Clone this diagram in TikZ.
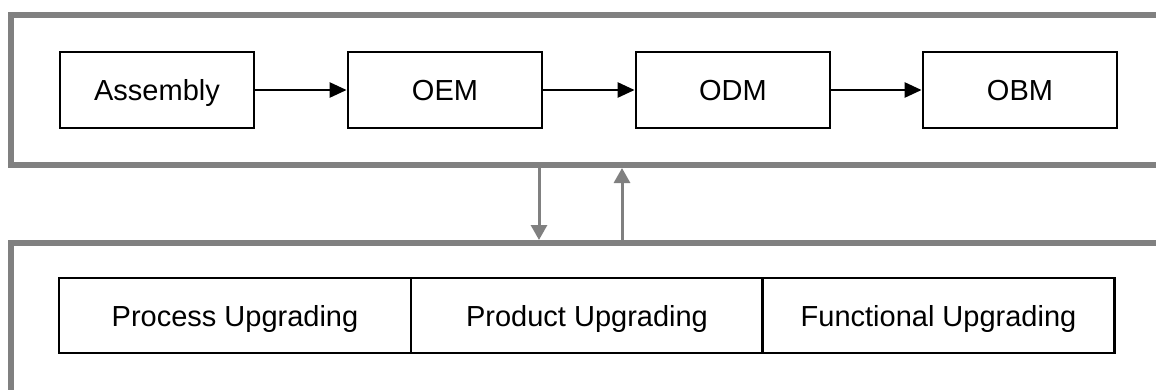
\documentclass[tikz,border=0pt]{standalone}
\usepackage{fontspec}
\setmainfont{Liberation Sans}
\usetikzlibrary{arrows.meta}
\definecolor{framegray}{HTML}{808080}
\begin{document}
\begin{tikzpicture}[x=1pt,y=-1pt,
  stagebox/.style={draw=black,line width=2.8pt,minimum width=194pt,minimum height=76pt,
    inner sep=0pt,text height=21pt,text depth=0pt,font=\fontsize{29}{34}\selectfont},
  upgbox/.style={draw=black,line width=2.8pt,minimum width=352pt,minimum height=75pt,
    inner sep=0pt,text height=21pt,text depth=0pt,font=\fontsize{29}{34}\selectfont},
  frame/.style={draw=framegray,line width=6pt},
  stepflow/.style={draw=black,line width=2.6pt,-{Triangle[length=17pt,width=15pt]}},
  linkflow/.style={draw=framegray,line width=3pt,-{Triangle[length=15pt,width=16pt]}}]
  \clip (0,0) rectangle (1156,389);
  % outer frames, open to the right (and the lower one to the bottom)
  \draw[frame] (1170,14.5) -- (11,14.5) -- (11,165) -- (1170,165);
  \draw[frame] (1170,243) -- (11,243) -- (11,400);
  % development stages
  \node[stagebox] (asm) at (157,90) {Assembly};
  \node[stagebox] (oem) at (445,90) {OEM};
  \node[stagebox] (odm) at (733,90) {ODM};
  \node[stagebox] (obm) at (1020,90) {OBM};
  \draw[stepflow] (asm) -- (oem);
  \draw[stepflow] (oem) -- (odm);
  \draw[stepflow] (odm) -- (obm);
  % kinds of upgrading
  \node[upgbox] (proc) at (235,315.5) {Process Upgrading};
  \node[upgbox] (prod) at (587,315.5) {Product Upgrading};
  \node[upgbox] (func) at (938.5,315.5) {Functional Upgrading};
  % links between the two frames
  \coordinate (dtop) at (539,168);
  \coordinate (dbot) at (539,240);
  \coordinate (utop) at (622,168);
  \coordinate (ubot) at (622,240);
  \draw[linkflow] (dtop) -- (dbot);
  \draw[linkflow] (ubot) -- (utop);
\end{tikzpicture}
\end{document}
